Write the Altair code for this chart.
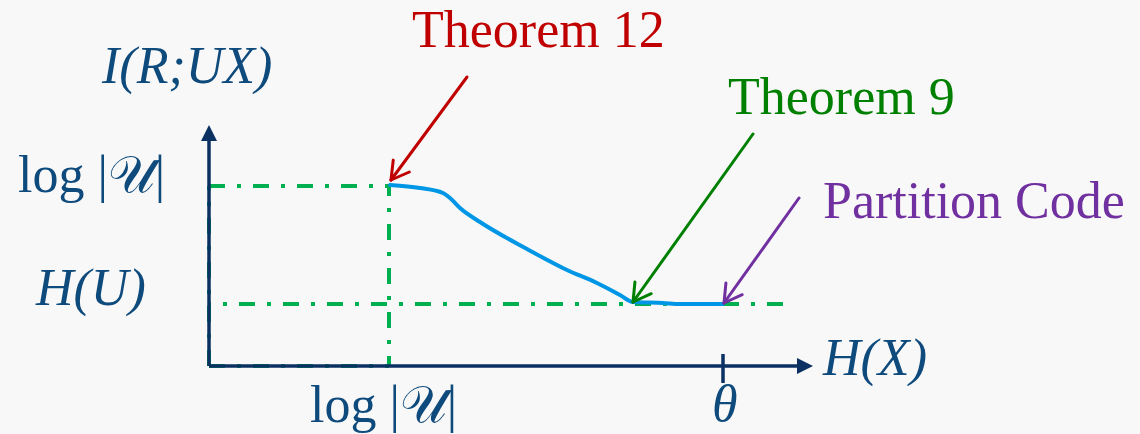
import math
import altair as alt
import pandas as pd

W, H = 1140, 434
# diagram units: one unit per pixel, origin at the corner of the two axes
X_DOMAIN = [-209, 931]
Y_DOMAIN = [-68, 366]

BG = "#f8f8f8"
AXIS = "#0b3163"
TEXT = "#0e4a7c"
GREEN_DASH = "#00b050"
CURVE = "#0096e6"
FONT = "Liberation Serif"

# levels on the two axes
log_u = 180          # log|U|
h_u = 62             # H(U)
theta = 514          # θ
x_axis_tip = 604
y_axis_tip = 241
h_u_line_end = 574
head = 16            # axis arrowhead length

# I(R;UX) against H(X)
curve_x = [181, 211, 234, 241, 251, 271, 318, 358, 388, 411, 424, 454, 471, 514]
curve_y = [181, 178, 173, 168, 158, 144, 117, 96, 83, 71, 64, 63, 62, 62]

# annotations and their arrows
note_text = ["Theorem 12", "Theorem 9", "Partition Code"]
note_color = ["#c00000", "#008000", "#7030a0"]
note_x = [203, 519, 614]
note_y = [319, 252, 148]
arrow_from_x = [258, 544, 590]
arrow_from_y = [289, 232, 168]
arrow_to_x = [182, 424, 515]
arrow_to_y = [186, 64, 63]

# axis and level labels
label_text = ["I(R;UX)", "log |\U0001D4B0|", "H(U)", "log |\U0001D4B0|", "H(X)", "θ"]
label_x = [-107, -191, -173, 101, 614, 503]
label_y = [283, 174, 61, -56, -9, -55]
label_italic = [True, False, True, False, True, True]

xs = alt.Scale(domain=X_DOMAIN, nice=False, zero=False)
ys = alt.Scale(domain=Y_DOMAIN, nice=False, zero=False)


def X(f):
    return alt.X(f"{f}:Q", scale=xs, axis=None)


def Y(f):
    return alt.Y(f"{f}:Q", scale=ys, axis=None)


def segments(rows):
    return pd.DataFrame(rows, columns=["x", "y", "x2", "y2"])


def rules(df, **style):
    return alt.Chart(df).mark_rule(**style).encode(
        x=X("x"), y=Y("y"), x2="x2:Q", y2="y2:Q"
    )


# green dash-dot guides
dash = [16, 12, 4, 12]
guides = alt.layer(
    rules(segments([[0, log_u, log_u, log_u], [0, 0, log_u, 0], [0, 0, 0, log_u]]),
          color=GREEN_DASH, strokeWidth=4, strokeDash=dash, strokeCap="butt"),
    rules(segments([[log_u, log_u, log_u, 0]]),
          color=GREEN_DASH, strokeWidth=4, strokeDash=dash, strokeDashOffset=6,
          strokeCap="butt"),
    rules(segments([[h_u_line_end, h_u, 0, h_u]]),
          color=GREEN_DASH, strokeWidth=4, strokeDash=dash, strokeCap="butt"),
)

curve = alt.Chart(pd.DataFrame({"x": curve_x, "y": curve_y})).mark_line(
    color=CURVE, strokeWidth=4, interpolate="monotone", strokeCap="round"
).encode(x=X("x"), y=Y("y"), order="x:Q")

# axes with filled arrowheads and the θ tick
axes = rules(
    segments([[0, 0, x_axis_tip - head + 2, 0], [0, 0, 0, y_axis_tip - head + 2],
              [theta, 12, theta, -17]]),
    color=AXIS, strokeWidth=3.5,
)
heads = pd.DataFrame({
    "x": [x_axis_tip - head / 2, 0],
    "y": [0, y_axis_tip - head / 2],
    "shape": ["M-1,-1L1,0L-1,1Z", "M-1,1L0,-1L1,1Z"],
})
arrowheads = alt.layer(*[
    alt.Chart(heads.iloc[[i]]).mark_point(
        shape=heads["shape"][i], filled=True, size=head * head, color=AXIS, opacity=1,
        strokeWidth=0,
    ).encode(x=X("x"), y=Y("y"))
    for i in range(len(heads))
])

# annotation arrows: shaft plus two open barbs at the tip
rows = []
for fx, fy, tx, ty, c in zip(arrow_from_x, arrow_from_y, arrow_to_x, arrow_to_y, note_color):
    dx, dy = fx - tx, fy - ty
    n = math.hypot(dx, dy)
    ux, uy = dx / n, dy / n
    rows.append([fx, fy, tx, ty, c])
    for a in (math.radians(30), -math.radians(30)):
        bx = ux * math.cos(a) - uy * math.sin(a)
        by = ux * math.sin(a) + uy * math.cos(a)
        rows.append([tx, ty, tx + 20 * bx, ty + 20 * by, c])
arrow_df = pd.DataFrame(rows, columns=["x", "y", "x2", "y2", "c"])
arrows = alt.Chart(arrow_df).mark_rule(strokeWidth=3, strokeCap="round").encode(
    x=X("x"), y=Y("y"), x2="x2:Q", y2="y2:Q", color=alt.Color("c:N", scale=None)
)

notes = alt.Chart(pd.DataFrame({"t": note_text, "x": note_x, "y": note_y, "c": note_color})).mark_text(
    font=FONT, fontSize=52, align="left", baseline="alphabetic"
).encode(x=X("x"), y=Y("y"), text="t:N", color=alt.Color("c:N", scale=None))

labels_df = pd.DataFrame({"t": label_text, "x": label_x, "y": label_y, "it": label_italic})
labels_it = alt.Chart(labels_df[labels_df["it"]]).mark_text(
    font=FONT, fontSize=52, fontStyle="italic", align="left", baseline="alphabetic", color=TEXT
).encode(x=X("x"), y=Y("y"), text="t:N")
labels_up = alt.Chart(labels_df[~labels_df["it"]]).mark_text(
    font=FONT, fontSize=52, align="left", baseline="alphabetic", color=TEXT
).encode(x=X("x"), y=Y("y"), text="t:N")

chart = alt.layer(guides, curve, axes, arrowheads, arrows, notes, labels_it, labels_up).properties(
    width=W, height=H, background=BG, padding=0,
    autosize=alt.AutoSizeParams(type="none"),
).configure_view(stroke=None)

chart.save("out.html", embed_options={"renderer": "svg", "actions": False})
